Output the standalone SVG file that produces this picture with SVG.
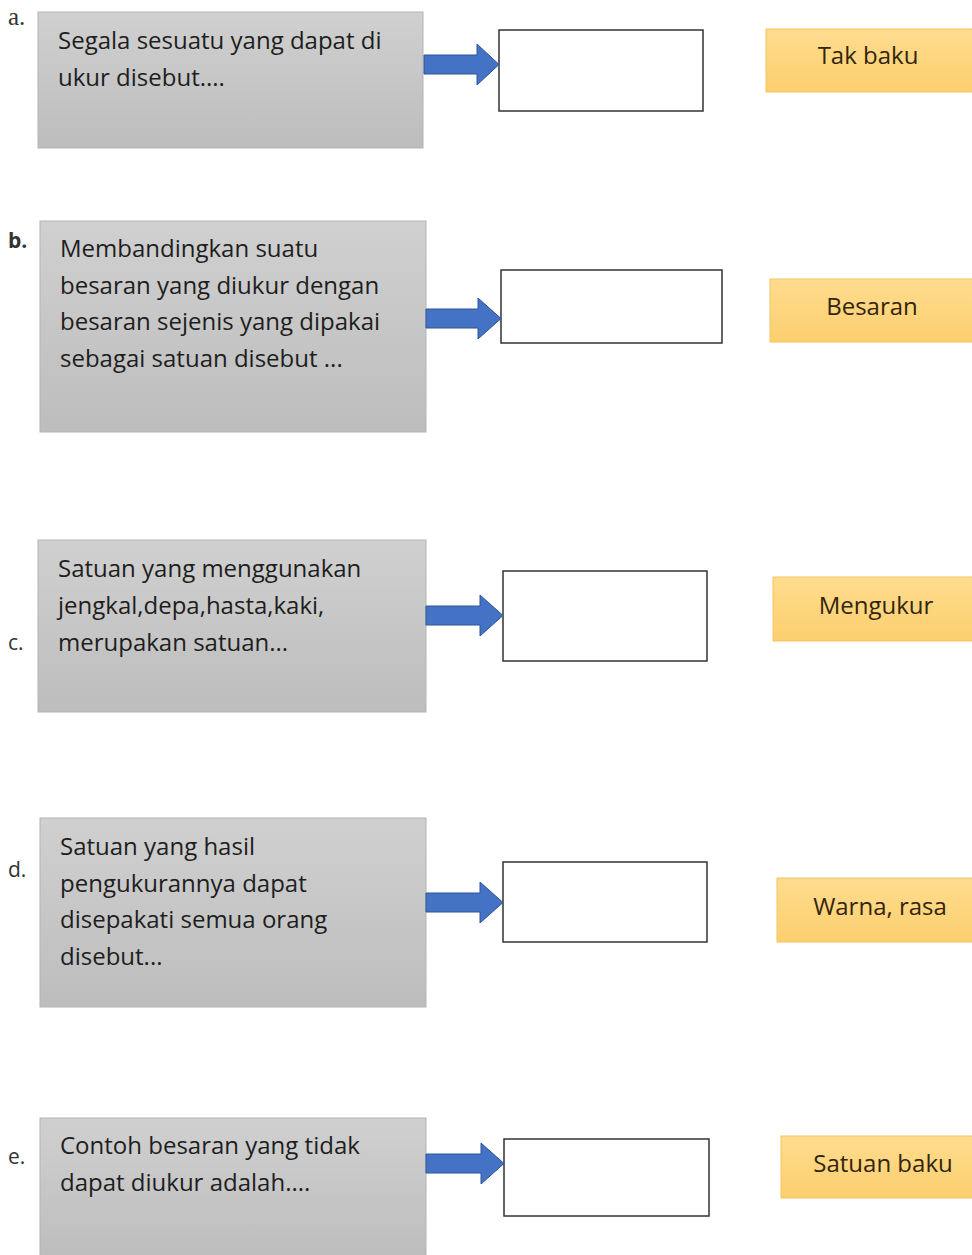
<svg xmlns="http://www.w3.org/2000/svg" width="972" height="1255" viewBox="0 0 972 1255">
<defs>
<linearGradient id="gg" x1="0" y1="0" x2="0" y2="1"><stop offset="0" stop-color="#d0d0d0"/><stop offset="1" stop-color="#bdbdbd"/></linearGradient>
<linearGradient id="og" x1="0" y1="0" x2="0" y2="1"><stop offset="0" stop-color="#ffdc8f"/><stop offset="1" stop-color="#fccf6e"/></linearGradient>
</defs>
<style>
.q{fill:url(#gg);stroke:#b4b4b4;stroke-width:1}
.ans{fill:#fff;stroke:#333;stroke-width:1.5}
.opt{fill:url(#og);stroke:#f5c55e;stroke-width:1}
.arr{fill:#4472c4;stroke:#2f5597;stroke-width:1}
.t{font-family:"Open Sans","Liberation Sans",sans-serif;font-size:24px;fill:#1e1e1e}
.o{font-family:"Open Sans","Liberation Sans",sans-serif;font-size:24px;fill:#33250c;text-anchor:middle}
.lab{font-family:"Open Sans","Liberation Sans",sans-serif;font-size:21px;fill:#333}
</style>
<rect width="972" height="1255" fill="#fff"/>
<g id="labels">
<text x="8" y="25" style="font-family:'Liberation Serif',serif;font-size:25px;fill:#333">a.</text>
<text x="8" y="248" class="lab" font-weight="bold">b.</text>
<text x="8" y="650" class="lab">c.</text>
<text x="8" y="877" class="lab">d.</text>
<text x="8" y="1164" class="lab">e.</text>
</g>
<g id="qa"><rect class="q" x="38" y="12" width="385" height="136"/>
<text class="t" x="58" y="49">Segala sesuatu yang dapat di</text>
<text class="t" x="58" y="86">ukur disebut....</text></g>
<g id="qb"><rect class="q" x="40" y="221" width="386" height="211"/>
<text class="t" x="60" y="257">Membandingkan suatu</text>
<text class="t" x="60" y="294">besaran yang diukur dengan</text>
<text class="t" x="60" y="330">besaran sejenis yang dipakai</text>
<text class="t" x="60" y="367">sebagai satuan disebut ...</text></g>
<g id="qc"><rect class="q" x="38" y="540" width="388" height="172"/>
<text class="t" x="58" y="577">Satuan yang menggunakan</text>
<text class="t" x="58" y="614">jengkal,depa,hasta,kaki,</text>
<text class="t" x="58" y="651">merupakan satuan...</text></g>
<g id="qd"><rect class="q" x="40" y="818" width="386" height="189"/>
<text class="t" x="60" y="855">Satuan yang hasil</text>
<text class="t" x="60" y="892">pengukurannya dapat</text>
<text class="t" x="60" y="928">disepakati semua orang</text>
<text class="t" x="60" y="965">disebut...</text></g>
<g id="qe"><rect class="q" x="40" y="1118" width="386" height="140"/>
<text class="t" x="60" y="1154">Contoh besaran yang tidak</text>
<text class="t" x="60" y="1191">dapat diukur adalah....</text></g>
<g id="ansA"><rect class="ans" x="499" y="30" width="204" height="81"/></g>
<g id="ansB"><rect class="ans" x="501" y="270" width="221" height="73"/></g>
<g id="ansC"><rect class="ans" x="503" y="571" width="204" height="90"/></g>
<g id="ansD"><rect class="ans" x="503" y="862" width="204" height="80"/></g>
<g id="ansE"><rect class="ans" x="504" y="1139" width="205" height="77"/></g>
<g id="optA"><rect class="opt" x="766" y="29" width="210" height="63"/><text class="o" x="868" y="64">Tak baku</text></g>
<g id="optB"><rect class="opt" x="770" y="279" width="206" height="63"/><text class="o" x="872" y="315">Besaran</text></g>
<g id="optC"><rect class="opt" x="773" y="577" width="203" height="64"/><text class="o" x="876" y="614">Mengukur</text></g>
<g id="optD"><rect class="opt" x="777" y="878" width="199" height="64"/><text class="o" x="880" y="915">Warna, rasa</text></g>
<g id="optE"><rect class="opt" x="781" y="1136" width="195" height="62"/><text class="o" x="883" y="1172">Satuan baku</text></g>
<g id="connectors">
<path class="arr" d="M424 55 H477 V44 L499 64.5 L477 85 V74 H424 Z"/>
<path class="arr" d="M426 309 H478 V298 L501 318.5 L478 339 V328 H426 Z"/>
<path class="arr" d="M426 606 H480 V595 L503 615.5 L480 636 V625 H426 Z"/>
<path class="arr" d="M426 893 H480 V882 L503 902.5 L480 923 V912 H426 Z"/>
<path class="arr" d="M426 1154 H481 V1143 L504 1163.5 L481 1184 V1173 H426 Z"/>
</g>
</svg>
